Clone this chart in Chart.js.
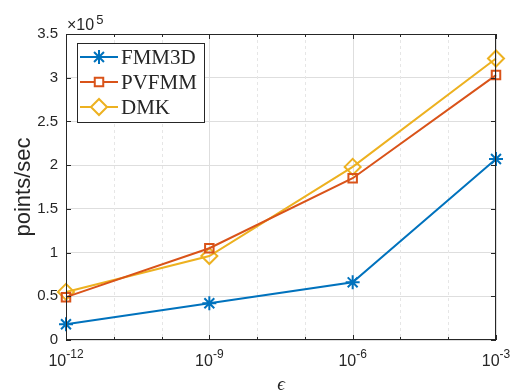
<!DOCTYPE html>
<html>
<head>
<meta charset="utf-8">
<script src="https://cdn.jsdelivr.net/npm/chart.js@4.4.1/dist/chart.umd.min.js"></script>
<style>
  html, body { margin: 0; padding: 0; background: #fff; }
  #wrap { width: 513px; height: 391px; }
</style>
</head>
<body>
<div id="wrap"><canvas id="plot" width="513" height="391"></canvas></div>
<script>
// tolerance on the x axis, throughput in units of 1e5 points/sec
const epsValues = [1e-12, 1e-9, 1e-6, 1e-3];
const fmm3d = [0.18, 0.42, 0.66, 2.07];
const pvfmm = [0.49, 1.05, 1.85, 3.03];
const dmk = [0.55, 0.96, 1.98, 3.22];
const yTicks = [0, 0.5, 1, 1.5, 2, 2.5, 3, 3.5];
const xMajorExp = [-12, -9, -6, -3];

const AXIS = "#262626";
const SANS = "'Liberation Sans', Arial, sans-serif";

const toPts = (ys) => epsValues.map((x, i) => ({ x: x, y: ys[i] }));

const series = [
  { label: "FMM3D", data: fmm3d, color: "#0072BD", style: "star", r: 7 },
  { label: "PVFMM", data: pvfmm, color: "#D95319", style: "rect", r: 6 },
  { label: "DMK", data: dmk, color: "#EDB120", style: "rectRot", r: 8 }
];

// grid, box, inward ticks, superscript labels and the legend
const decor = {
  id: "decor",
  beforeDatasetsDraw(chart) {
    const { ctx, chartArea: a } = chart;
    const xs = chart.scales.x;
    ctx.save();
    for (let e = -12; e <= -3; e++) {
      const px = Math.round(xs.getPixelForValue(Math.pow(10, e))) + 0.5;
      const major = xMajorExp.includes(e);
      ctx.strokeStyle = major ? "#dedede" : "#e6e6e6";
      ctx.lineWidth = 1;
      ctx.setLineDash(major ? [] : [3, 3]);
      ctx.beginPath();
      ctx.moveTo(px, a.top);
      ctx.lineTo(px, a.bottom);
      ctx.stroke();
    }
    ctx.restore();
  },
  afterDraw(chart) {
    const { ctx, chartArea: a } = chart;
    const xs = chart.scales.x, ys = chart.scales.y;
    ctx.save();
    ctx.setLineDash([]);
    ctx.strokeStyle = AXIS;
    ctx.lineWidth = 1;
    ctx.strokeRect(a.left + 0.5, a.top + 0.5, a.right - a.left - 1, a.bottom - a.top - 1);

    // inward ticks
    ctx.beginPath();
    for (let e = -12; e <= -3; e++) {
      const px = Math.round(xs.getPixelForValue(Math.pow(10, e))) + 0.5;
      const len = xMajorExp.includes(e) ? 5 : 3;
      ctx.moveTo(px, a.bottom); ctx.lineTo(px, a.bottom - len);
      ctx.moveTo(px, a.top); ctx.lineTo(px, a.top + len);
    }
    yTicks.forEach(v => {
      const py = Math.round(ys.getPixelForValue(v)) + 0.5;
      ctx.moveTo(a.left, py); ctx.lineTo(a.left + 5, py);
      ctx.moveTo(a.right, py); ctx.lineTo(a.right - 5, py);
    });
    ctx.stroke();

    // x tick labels 10^e
    ctx.fillStyle = AXIS;
    ctx.textBaseline = "alphabetic";
    ctx.textAlign = "left";
    xMajorExp.forEach(e => {
      const px = xs.getPixelForValue(Math.pow(10, e));
      const sup = String(e);
      ctx.font = "16px " + SANS;
      const wBase = ctx.measureText("10").width;
      ctx.font = "12px " + SANS;
      const wSup = ctx.measureText(sup).width;
      const x0 = px - (wBase + wSup) / 2;
      ctx.font = "16px " + SANS;
      ctx.fillText("10", x0, a.bottom + 26);
      ctx.font = "12px " + SANS;
      ctx.fillText(sup, x0 + wBase, a.bottom + 18);
    });

    // x10^5 multiplier
    ctx.font = "16px " + SANS;
    ctx.fillText("\u00d710", a.left + 1, a.top - 4);
    const wm = ctx.measureText("\u00d710").width;
    ctx.font = "13px " + SANS;
    ctx.fillText("5", a.left + 1 + wm + 2, a.top - 10);

    // axis titles
    ctx.font = "italic 19px 'Liberation Serif', 'Times New Roman', serif";
    ctx.textAlign = "center";
    ctx.fillText("\u03f5", (a.left + a.right) / 2, 390);
    ctx.save();
    ctx.translate(30, (a.top + a.bottom) / 2);
    ctx.rotate(-Math.PI / 2);
    ctx.font = "22px " + SANS;
    ctx.fillText("points/sec", 0, 0);
    ctx.restore();

    // legend box
    const lx = 77, ly = 43, lw = 127, lh = 79;
    ctx.fillStyle = "#fff";
    ctx.fillRect(lx, ly, lw, lh);
    ctx.strokeStyle = AXIS;
    ctx.lineWidth = 1;
    ctx.strokeRect(lx + 0.5, ly + 0.5, lw, lh);
    ctx.font = "21px 'Liberation Serif', 'Times New Roman', serif";
    ctx.textAlign = "left";
    ctx.textBaseline = "middle";
    series.forEach((s, i) => {
      const cy = 57 + i * 25;
      ctx.strokeStyle = s.color;
      ctx.lineWidth = 2;
      ctx.beginPath();
      ctx.moveTo(80, cy); ctx.lineTo(118, cy);
      ctx.stroke();
      ctx.fillStyle = "#fff";
      Chart.helpers.drawPoint(ctx, {
        pointStyle: s.style, radius: s.r, borderWidth: 2, rotation: 0
      }, 99, cy);
      ctx.fillStyle = AXIS;
      ctx.fillText(s.label, 121, cy + 1);
    });
    ctx.restore();
  }
};

new Chart(document.getElementById("plot"), {
  type: "line",
  data: {
    datasets: series.map(s => ({
      label: s.label,
      data: toPts(s.data),
      borderColor: s.color,
      backgroundColor: s.color,
      borderWidth: 2,
      pointStyle: s.style,
      pointRadius: s.r,
      pointHoverRadius: s.r,
      pointBorderWidth: 2,
      pointBorderColor: s.color,
      pointBackgroundColor: "rgba(0,0,0,0)",
      tension: 0,
      clip: false
    }))
  },
  options: {
    responsive: false,
    animation: false,
    events: [],
    layout: { padding: { top: 34, right: 17, left: 0, bottom: 0 } },
    plugins: { legend: { display: false }, tooltip: { enabled: false } },
    scales: {
      x: {
        type: "logarithmic",
        min: 1e-12,
        max: 1e-3,
        afterBuildTicks: (scale) => {
          scale.ticks = xMajorExp.map(e => ({ value: Math.pow(10, e) }));
        },
        afterFit: (scale) => { scale.height = 51; },
        ticks: { display: false },
        grid: { display: false },
        border: { display: false }
      },
      y: {
        min: 0,
        max: 3.5,
        afterBuildTicks: (scale) => {
          scale.ticks = yTicks.map(v => ({ value: v }));
        },
        afterFit: (scale) => { scale.width = 66; },
        ticks: {
          color: AXIS,
          font: { family: SANS, size: 15 },
          padding: 8,
          callback: (v) => String(v)
        },
        grid: { color: "#dedede", drawTicks: false },
        border: { display: false }
      }
    }
  },
  plugins: [decor]
});
</script>
</body>
</html>
